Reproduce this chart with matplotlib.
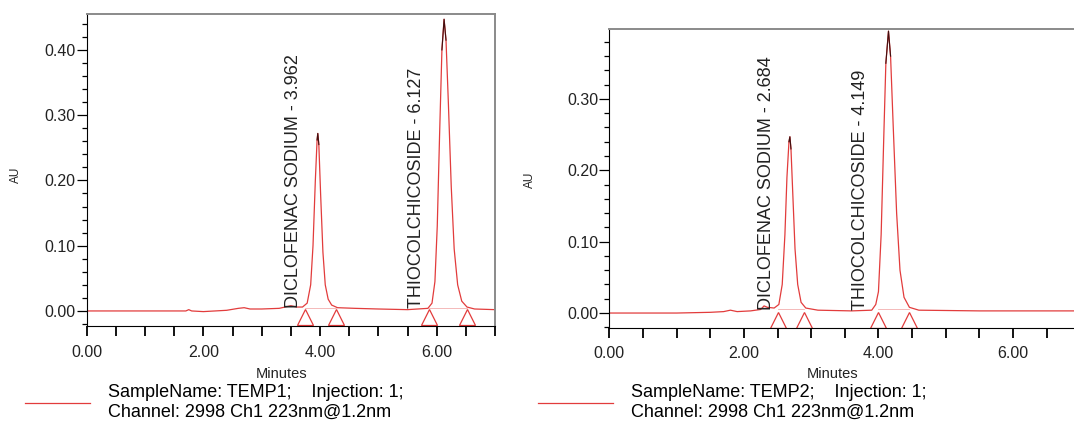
import matplotlib
matplotlib.use('Agg')
import matplotlib.pyplot as plt
from matplotlib.ticker import MultipleLocator, FormatStrFormatter

plt.rcParams['font.family'] = ['Liberation Sans', 'DejaVu Sans']

RED = '#e23c3c'
TEXT = '#222222'

# --- left run (TEMP1) ---
t1 = [0.00, 1.00, 1.70, 1.75, 1.80, 2.00, 2.40, 2.60, 2.70, 2.80, 3.00, 3.30,
      3.40, 3.50, 3.60, 3.70, 3.78, 3.84, 3.88, 3.92, 3.95, 3.962, 3.98, 4.01,
      4.05, 4.09, 4.14, 4.20, 4.30, 4.60, 5.00, 5.50, 5.85, 5.92, 5.97, 6.01,
      6.05, 6.09, 6.127, 6.16, 6.20, 6.25, 6.30, 6.36, 6.43, 6.52, 6.65, 7.00]
au1 = [0.000, 0.000, 0.000, 0.002, 0.000, -0.001, 0.001, 0.004, 0.005, 0.003,
       0.003, 0.004, 0.006, 0.008, 0.006, 0.006, 0.012, 0.040, 0.100, 0.200,
       0.262, 0.272, 0.255, 0.180, 0.090, 0.040, 0.018, 0.009, 0.005, 0.004,
       0.003, 0.002, 0.004, 0.012, 0.045, 0.130, 0.270, 0.400, 0.447, 0.415,
       0.320, 0.190, 0.095, 0.040, 0.015, 0.006, 0.003, 0.002]
marks1 = [3.74, 4.27, 5.87, 6.52]
peaks1 = [(3.54, 'DICLOFENAC SODIUM - 3.962'),
          (5.65, 'THIOCOLCHICOSIDE - 6.127')]
legend1 = 'SampleName: TEMP1;    Injection: 1;\nChannel: 2998 Ch1 223nm@1.2nm'

# --- right run (TEMP2) ---
t2 = [0.00, 1.00, 1.50, 1.70, 1.80, 1.90, 2.10, 2.25, 2.30, 2.35, 2.45, 2.52,
      2.57, 2.61, 2.64, 2.67, 2.684, 2.70, 2.73, 2.76, 2.80, 2.85, 2.92, 3.10,
      3.60, 3.90, 3.96, 4.00, 4.04, 4.08, 4.11, 4.149, 4.18, 4.22, 4.27, 4.32,
      4.38, 4.46, 4.60, 5.50, 7.00]
au2 = [0.000, 0.000, 0.001, 0.002, 0.004, 0.002, 0.003, 0.005, 0.010, 0.008,
       0.007, 0.012, 0.040, 0.110, 0.190, 0.240, 0.247, 0.230, 0.160, 0.090,
       0.040, 0.015, 0.007, 0.004, 0.003, 0.004, 0.012, 0.030, 0.110, 0.250,
       0.350, 0.395, 0.360, 0.260, 0.140, 0.060, 0.022, 0.008, 0.004, 0.003,
       0.003]
marks2 = [2.51, 2.89, 3.99, 4.45]
peaks2 = [(2.34, 'DICLOFENAC SODIUM - 2.684'),
          (3.73, 'THIOCOLCHICOSIDE - 4.149')]
legend2 = 'SampleName: TEMP2;    Injection: 1;\nChannel: 2998 Ch1 223nm@1.2nm'


def chromatogram(ax, t, au, marks, peaks, legend_text, ylim, leg_x,
                 handlelen, label_xy, au_xy):
    line, = ax.plot(t, au, color=RED, lw=0.9)
    # dark apex of each peak
    for i in range(1, len(au) - 1):
        if au[i] > 0.1 and au[i] >= au[i - 1] and au[i] >= au[i + 1]:
            ax.plot(t[i - 1:i + 2], au[i - 1:i + 2], color='#401010', lw=0.8)
    # integration marks
    ax.plot(marks, [-0.0095] * len(marks), linestyle='none', marker='^',
            markersize=12, markerfacecolor='none', markeredgecolor=RED,
            markeredgewidth=0.9)
    for i in range(0, len(marks), 2):
        ax.plot(marks[i:i + 2], [0.005, 0.005], color=RED, lw=0.5, alpha=0.5)
    for x, txt in peaks:
        ax.text(x, 0.004, txt, rotation=90, ha='center', va='bottom',
                fontsize=13, color=TEXT)

    ax.set_xlim(0, 7.0)
    ax.set_ylim(*ylim)
    ax.xaxis.set_major_locator(MultipleLocator(2))
    ax.xaxis.set_minor_locator(MultipleLocator(0.5))
    ax.yaxis.set_major_locator(MultipleLocator(0.1))
    ax.yaxis.set_minor_locator(MultipleLocator(0.02))
    ax.xaxis.set_major_formatter(FormatStrFormatter('%.2f'))
    ax.yaxis.set_major_formatter(FormatStrFormatter('%.2f'))
    ax.tick_params(axis='x', which='both', direction='out', length=7,
                   width=1.3, color='black', bottom=True)
    ax.tick_params(axis='x', which='major', pad=6, labelsize=11.5,
                   labelcolor=TEXT)
    ax.tick_params(axis='y', which='major', direction='out', length=7,
                   width=0.9, color='black', pad=1, labelsize=11.5,
                   labelcolor=TEXT)
    ax.tick_params(axis='y', which='minor', direction='out', length=3.5,
                   width=0.9, color='black')
    for side in ('top', 'right'):
        ax.spines[side].set_color('#8a8a8a')
        ax.spines[side].set_linewidth(1.4)

    ax.set_xlabel('Minutes', fontsize=10.5, color=TEXT)
    ax.xaxis.set_label_coords(*label_xy)
    ax.set_ylabel('AU', fontsize=8.5, color=TEXT)
    ax.yaxis.set_label_coords(*au_xy)

    ax.legend(handles=[line], labels=[legend_text], loc='center left',
              bbox_to_anchor=(leg_x, 0.055), bbox_transform=ax.figure.transFigure,
              frameon=False, fontsize=13, handlelength=handlelen,
              handletextpad=1.0, borderpad=0, borderaxespad=0)


fig = plt.figure(figsize=(10.74, 4.26), dpi=100)
ax1 = fig.add_axes([0.0807, 0.2336, 0.3802, 0.7335])
ax2 = fig.add_axes([0.5673, 0.2300, 0.4386, 0.7019])

chromatogram(ax1, t1, au1, marks1, peaks1, legend1, (-0.0238, 0.455),
             0.0233, 3.6, (0.478, -0.13), (-0.158, 0.485))
chromatogram(ax2, t2, au2, marks2, peaks2, legend2, (-0.021, 0.398),
             0.501, 4.15, (0.473, -0.13), (-0.156, 0.495))

fig.savefig('out.png', dpi=100)
